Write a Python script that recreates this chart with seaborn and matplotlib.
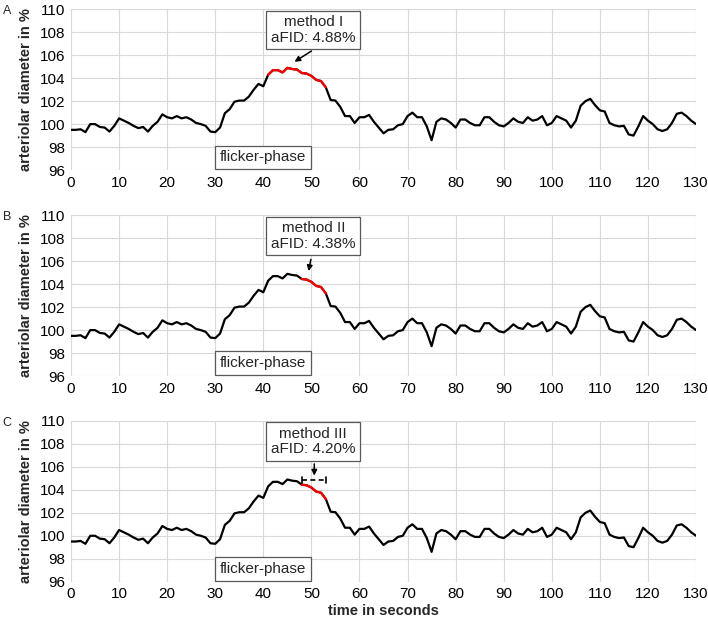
import matplotlib
matplotlib.use("Agg")
import matplotlib.pyplot as plt
import seaborn as sns
import pandas as pd
import numpy as np

# time axis and diameter trace (1 s steps)
time_s = list(range(0, 131))
diameter = [
    99.5, 99.5, 99.55, 99.3, 100.0, 100.0, 99.75, 99.7, 99.35, 99.85,
    100.5, 100.3, 100.1, 99.85, 99.65, 99.75, 99.35, 99.85, 100.2, 100.85,
    100.6, 100.5, 100.7, 100.5, 100.6, 100.4, 100.1, 100.0, 99.85, 99.35,
    99.3, 99.7, 100.95, 101.3, 101.95, 102.05, 102.05, 102.4, 103.0, 103.5,
    103.3, 104.3, 104.7, 104.7, 104.5, 104.9, 104.8, 104.75, 104.45, 104.4,
    104.2, 103.85, 103.75, 103.2, 102.1, 102.05, 101.5, 100.7, 100.7, 100.1,
    100.6, 100.6, 100.8, 100.2, 99.7, 99.2, 99.5, 99.55, 99.9, 100.0,
    100.7, 101.0, 100.6, 100.6, 99.8, 98.6, 100.2, 100.5, 100.4, 100.1,
    99.7, 100.4, 100.4, 100.1, 99.9, 99.9, 100.6, 100.6, 100.2, 99.9,
    99.8, 100.1, 100.5, 100.2, 100.1, 100.6, 100.3, 100.4, 100.7, 99.9,
    100.1, 100.7, 100.5, 100.3, 99.7, 100.3, 101.6, 102.0, 102.2, 101.65,
    101.2, 101.1, 100.1, 99.9, 99.8, 99.85, 99.1, 99.0, 99.8, 100.7,
    100.3, 100.0, 99.55, 99.4, 99.55, 100.1, 100.9, 101.0, 100.7, 100.3,
    100.0,
]

panel_letters = ["A", "B", "C"]
method_names = ["method I", "method II", "method III"]
afid_values = ["4.88%", "4.38%", "4.20%"]
red_start = [41, 48, 48]
red_end = [53, 53, 53]

df = pd.DataFrame({"time": time_s, "diameter": diameter})

sns.set_style("whitegrid")
plt.rcParams["font.family"] = ["Liberation Sans", "DejaVu Sans"]

fig = plt.figure(figsize=(7.08, 6.21), dpi=100)

# axes boxes in figure fraction
left, width, height = 0.1003, 0.8828, 0.2588
bottoms = [0.7262, 0.3945, 0.0633]

for i in range(3):
    ax = fig.add_axes([left, bottoms[i], width, height])
    sns.lineplot(data=df, x="time", y="diameter", color="black", lw=1.6, ax=ax)
    seg = df[(df.time >= red_start[i]) & (df.time <= red_end[i])]
    sns.lineplot(data=seg, x="time", y="diameter", color="#ff0000", lw=1.6, ax=ax)

    ax.set_xlim(0, 130)
    ax.set_ylim(96, 110)
    ax.set_xticks(range(0, 131, 10))
    ax.set_yticks(range(96, 111, 2))
    ax.grid(True, color="#d9d9d9", lw=0.8)
    for s in ax.spines.values():
        s.set_visible(False)
    ax.tick_params(axis="both", labelsize=11, length=0, pad=4, colors="black")
    ax.set_ylabel("arteriolar diameter in %", fontsize=10.5, fontweight="bold", labelpad=5)
    if i == 2:
        ax.set_xlabel("time in seconds", fontsize=10.5, fontweight="bold", labelpad=2)
    else:
        ax.set_xlabel("")

    box = dict(boxstyle="square,pad=0.32", fc="white", ec="#595959", lw=0.9)
    ax.text(40, 97.1, "flicker-phase", ha="center", va="center", fontsize=11, bbox=box)

    label = method_names[i] + "\naFID: " + afid_values[i]
    ax.text(50.4, 108.2, label, ha="center", va="center", fontsize=11,
            linespacing=1.1, bbox=box, zorder=5)

    arrow = dict(arrowstyle="-|>", color="black", lw=1.1, mutation_scale=8)
    if i == 0:
        ax.annotate("", xy=(46.0, 105.3), xytext=(50.5, 106.5), arrowprops=arrow)
    elif i == 1:
        ax.annotate("", xy=(49.3, 104.9), xytext=(50.0, 106.4), arrowprops=arrow)
    else:
        ax.annotate("", xy=(50.6, 105.0), xytext=(50.6, 106.5), arrowprops=arrow)
        ax.plot([48, 53.1], [104.85, 104.85], color="black", lw=1.2, ls=(0, (3, 2)))
        ax.plot([48, 48], [104.6, 105.1], color="black", lw=1.2)
        ax.plot([53.1, 53.1], [104.6, 105.1], color="black", lw=1.2)

    fig.text(0.004, bottoms[i] + height - 0.003, panel_letters[i], fontsize=9,
             ha="left", va="center")

fig.savefig("out.png", dpi=100)
